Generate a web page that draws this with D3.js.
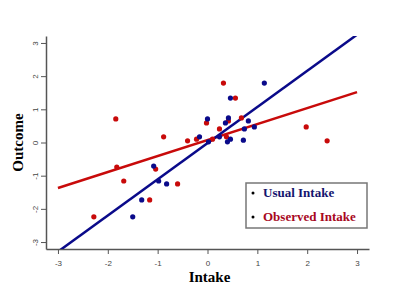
<!DOCTYPE html>
<html>
<head>
<meta charset="utf-8">
<script src="https://cdn.jsdelivr.net/npm/d3@7"></script>
<style>
  body { margin: 0; background: #fff; }
  svg { display: block; }
</style>
</head>
<body>
<div id="container"></div>
<script>
// values (outcome vs intake)
const usualX = [-1.08, -0.98, -0.82, -1.32, -1.50, -0.16, 0.00, 0.46, 0.42, 0.36, 0.82, 0.94, 0.74, 1.14, 0.46, 0.40, 0.72, 0.02, 0.24];
const usualY = [-0.71, -1.16, -1.25, -1.73, -2.24, 0.17, 0.71, 1.34, 0.74, 0.59, 0.65, 0.47, 0.41, 1.79, 0.10, 0.02, 0.07, 0.02, 0.17];
const observedX = [-1.84, -1.82, -1.68, -2.28, -0.88, -1.04, -1.16, -0.60, -0.40, -0.22, -0.02, 0.24, 0.32, 0.56, 0.42, 0.68, 0.38, 0.10, 1.98, 2.40];
const observedY = [0.71, -0.74, -1.16, -2.24, 0.17, -0.80, -1.73, -1.25, 0.05, 0.10, 0.59, 0.41, 1.79, 1.34, 0.65, 0.74, 0.17, 0.10, 0.47, 0.05];
// fitted lines, values at x = -3 and x = 3
const fitX = [-3, 3];
const usualFit = [-3.29, 3.25];
const observedFit = [-1.37, 1.52];
const ticks = [-3, -2, -1, 0, 1, 2, 3];
const legendLabels = ["Usual Intake", "Observed Intake"];

const W = 404, H = 305;
const plot = { left: 46, right: 369, top: 36, bottom: 249 };
const blue = "#0a0a8a", red = "#c80a0a";

const svg = d3.select("#container").append("svg")
    .attr("width", W)
    .attr("height", H);

const x = d3.scaleLinear().domain([-3.24, 3.24]).range([plot.left, plot.right]);
const y = d3.scaleLinear().domain([-3.21, 3.21]).range([plot.bottom, plot.top]);

svg.append("clipPath").attr("id", "plot")
  .append("rect")
    .attr("x", plot.left).attr("y", plot.top)
    .attr("width", plot.right - plot.left).attr("height", plot.bottom - plot.top);

// axes
const fmt = d => String(d);
const xAxis = svg.append("g")
    .attr("transform", `translate(0,${plot.bottom})`)
    .call(d3.axisBottom(x).tickValues(ticks).tickFormat(fmt).tickSize(5).tickSizeOuter(0).tickPadding(6));
const yAxis = svg.append("g")
    .attr("transform", `translate(${plot.left},0)`)
    .call(d3.axisLeft(y).tickValues(ticks).tickFormat(fmt).tickSize(5).tickSizeOuter(0).tickPadding(4));

[xAxis, yAxis].forEach(g => {
    g.select(".domain").attr("stroke", "#555").attr("stroke-width", 1.5);
    g.selectAll(".tick line").attr("stroke", "#555");
    g.selectAll("text")
        .attr("fill", "#444")
        .style("font-family", "'Liberation Sans', Arial, sans-serif")
        .style("font-size", "8px");
});
yAxis.selectAll(".tick text")
    .attr("transform", "rotate(-90)")
    .attr("x", 0).attr("y", -11)
    .attr("dy", "0.32em")
    .attr("text-anchor", "middle");

// fit lines
const line = d3.line().x(d => x(d[0])).y(d => y(d[1]));
const fits = svg.append("g").attr("clip-path", "url(#plot)");
fits.append("path")
    .attr("d", line(d3.zip(fitX, observedFit)))
    .attr("fill", "none").attr("stroke", red).attr("stroke-width", 2.5);
fits.append("path")
    .attr("d", line(d3.zip(fitX, usualFit)))
    .attr("fill", "none").attr("stroke", blue).attr("stroke-width", 2.5);

// points
svg.append("g").selectAll("circle")
    .data(d3.zip(observedX, observedY))
  .enter().append("circle")
    .attr("cx", d => x(d[0]))
    .attr("cy", d => y(d[1]))
    .attr("r", 2.6)
    .attr("fill", red);

svg.append("g").selectAll("circle")
    .data(d3.zip(usualX, usualY))
  .enter().append("circle")
    .attr("cx", d => x(d[0]))
    .attr("cy", d => y(d[1]))
    .attr("r", 2.6)
    .attr("fill", blue);

// axis titles
const serif = "'Liberation Serif', 'Times New Roman', serif";
svg.append("text")
    .attr("x", (plot.left + plot.right) / 2 + 2)
    .attr("y", 282)
    .attr("text-anchor", "middle")
    .style("font-family", serif)
    .style("font-weight", "bold")
    .style("font-size", "15px")
    .text("Intake");

svg.append("text")
    .attr("transform", `translate(23,${(plot.top + plot.bottom) / 2}) rotate(-90)`)
    .attr("text-anchor", "middle")
    .style("font-family", serif)
    .style("font-weight", "bold")
    .style("font-size", "15px")
    .text("Outcome");

// legend
const legend = svg.append("g");
legend.append("rect")
    .attr("x", 246).attr("y", 183)
    .attr("width", 121).attr("height", 45)
    .attr("fill", "#fff")
    .attr("stroke", "#777")
    .attr("stroke-width", 1.5);

legend.selectAll("g.item")
    .data(legendLabels)
  .enter().append("g")
    .attr("class", "item")
    .attr("transform", (d, i) => `translate(253,${197 + i * 24})`)
    .each(function(d, i) {
        const g = d3.select(this);
        g.append("circle").attr("cx", 0).attr("cy", -4).attr("r", 1.5).attr("fill", "#000");
        g.append("text")
            .attr("x", 10)
            .attr("y", 0)
            .attr("fill", i === 0 ? "#14146e" : "#a8081e")
            .style("font-family", serif)
            .style("font-weight", "bold")
            .style("font-size", "13px")
            .text(d);
    });
</script>
</body>
</html>
